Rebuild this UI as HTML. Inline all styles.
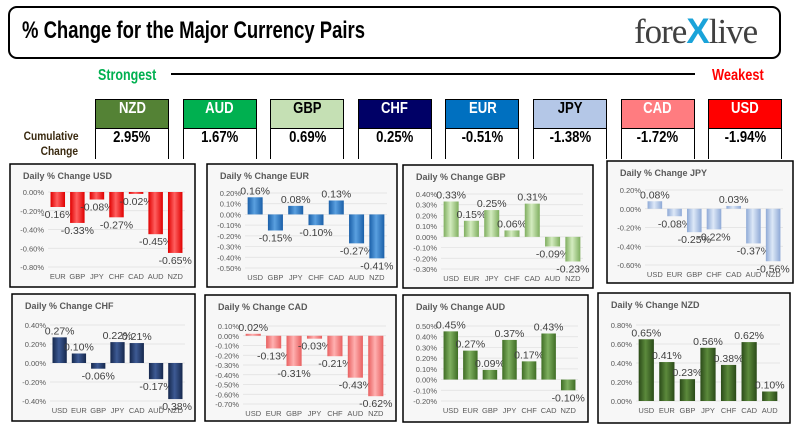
<!DOCTYPE html>
<html><head><meta charset="utf-8">
<style>
body{margin:0;background:#fff;width:794px;height:435px;overflow:hidden;position:relative;font-family:"Liberation Sans",sans-serif}
.abs{position:absolute}
.cx{display:inline-block;transform-origin:left center;white-space:nowrap}
.title-box{left:8px;top:6px;width:773px;height:53px;border:2px solid #000;border-radius:9px;box-sizing:border-box}
.title{left:22px;top:17px;font:bold 24px "Liberation Sans",sans-serif;color:#000;transform:scaleX(0.77);transform-origin:left top;white-space:nowrap}
.logo{left:634px;top:12px;font:35px "Liberation Serif",serif;color:#404040;letter-spacing:-1px}
.cur{width:74px;height:60px;border:1px solid #000;box-sizing:border-box;top:99px}
.cur .h{height:28px;line-height:28px;text-align:center;font:bold 16px "Liberation Sans",sans-serif;border-bottom:1px solid #000}
.cur .v{height:30px;line-height:30px;text-align:center;font:bold 16px "Liberation Sans",sans-serif;color:#000;background:#fff}
.cur span{display:inline-block;transform:scaleX(0.82)}
</style></head><body>
<div class="abs title-box"></div>
<div class="abs title">% Change for the Major Currency Pairs</div>
<div class="abs logo">fore<span style="color:#1aa3d9;font-family:'Liberation Sans',sans-serif;font-weight:bold">X</span>live</div>
<div class="abs" style="left:98px;top:67px;font:bold 16px 'Liberation Sans',sans-serif;color:#00b050;transform:scaleX(0.78);transform-origin:left top">Strongest</div>
<div class="abs" style="left:171px;top:73px;width:524px;height:2px;background:#000"></div>
<div class="abs" style="left:712px;top:67px;font:bold 16px 'Liberation Sans',sans-serif;color:#ff0000;transform:scaleX(0.8);transform-origin:left top">Weakest</div>
<div class="abs" style="left:14px;top:129px;width:64px;text-align:right;font:bold 12px 'Liberation Sans',sans-serif;color:#3a2a10;line-height:15px;transform:scaleX(0.85);transform-origin:right top">Cumulative<br>Change</div>
<div id="boxes"></div>
<svg id="charts" class="abs" style="left:0;top:0" width="794" height="435">
<defs id="defs"></defs>
</svg>
<script>
const boxCurrencies=["NZD","AUD","GBP","CHF","EUR","JPY","CAD","USD"];
const boxValues=["2.95%","1.67%","0.69%","0.25%","-0.51%","-1.38%","-1.72%","-1.94%"];
const boxBg=["#548235","#00b050","#c5e0b4","#000066","#0070c0","#b4c7e7","#ff7c80","#ff0000"];
const boxFg=["#fff","#fff","#000","#fff","#fff","#000","#fff","#fff"];
const bx=document.getElementById('boxes');
boxCurrencies.forEach((c,i)=>{
  const d=document.createElement('div');
  d.className='abs cur';
  d.style.left=(95+i*87.6)+'px';
  
  
  d.innerHTML='<div class="h" style="background:'+boxBg[i]+';color:'+boxFg[i]+'"><span>'+c+'</span></div><div class="v"><span>'+boxValues[i]+'</span></div>';
  bx.appendChild(d);
});

const usdCats=["EUR","GBP","JPY","CHF","CAD","AUD","NZD"];
const usdVals=[-0.16,-0.33,-0.08,-0.27,-0.02,-0.45,-0.65];
const eurCats=["USD","GBP","JPY","CHF","CAD","AUD","NZD"];
const eurVals=[0.16,-0.15,0.08,-0.10,0.13,-0.27,-0.41];
const gbpCats=["USD","EUR","JPY","CHF","CAD","AUD","NZD"];
const gbpVals=[0.33,0.15,0.25,0.06,0.31,-0.09,-0.23];
const jpyCats=["USD","EUR","GBP","CHF","CAD","AUD","NZD"];
const jpyVals=[0.08,-0.08,-0.25,-0.22,0.03,-0.37,-0.56];
const chfCats=["USD","EUR","GBP","JPY","CAD","AUD","NZD"];
const chfVals=[0.27,0.10,-0.06,0.22,0.21,-0.17,-0.38];
const cadCats=["USD","EUR","GBP","JPY","CHF","AUD","NZD"];
const cadVals=[0.02,-0.13,-0.31,-0.03,-0.21,-0.43,-0.62];
const audCats=["USD","EUR","GBP","JPY","CHF","CAD","NZD"];
const audVals=[0.45,0.27,0.09,0.37,0.17,0.43,-0.10];
const nzdCats=["USD","EUR","GBP","JPY","CHF","CAD","AUD"];
const nzdVals=[0.65,0.41,0.23,0.56,0.38,0.62,0.10];
const usdTicks=[0,-0.2,-0.4,-0.6,-0.8];
const eurTicks=[0.2,0.1,0,-0.1,-0.2,-0.3,-0.4,-0.5];
const gbpTicks=[0.4,0.3,0.2,0.1,0,-0.1,-0.2,-0.3];
const jpyTicks=[0.2,0,-0.2,-0.4,-0.6];
const chfTicks=[0.4,0.2,0,-0.2,-0.4];
const cadTicks=[0.1,0,-0.1,-0.2,-0.3,-0.4,-0.5,-0.6,-0.7];
const audTicks=[0.5,0.4,0.3,0.2,0.1,0,-0.1,-0.2];
const nzdTicks=[0.8,0.6,0.4,0.2,0];

const panels=[
 {n:"USD",x:10,y:164,w:185,h:123,yT:192,yB:267,cats:usdCats,vals:usdVals,ticks:usdTicks,c:"#e00000",l:"#ff6060"},
 {n:"EUR",x:207,y:164,w:190,h:123,yT:193,yB:268,cats:eurCats,vals:eurVals,ticks:eurTicks,c:"#1a5fa8",l:"#5aa0e0"},
 {n:"GBP",x:403,y:165,w:190,h:123,yT:194,yB:269,cats:gbpCats,vals:gbpVals,ticks:gbpTicks,c:"#7fae5f",l:"#d4ecc0"},
 {n:"JPY",x:607,y:161,w:186,h:122,yT:190,yB:265,cats:jpyCats,vals:jpyVals,ticks:jpyTicks,c:"#8ea9d6",l:"#dde8f7"},
 {n:"CHF",x:12,y:294,w:183,h:127,yT:325,yB:401,cats:chfCats,vals:chfVals,ticks:chfTicks,c:"#16284d",l:"#3d5a94"},
 {n:"CAD",x:205,y:295,w:191,h:126,yT:326,yB:404,cats:cadCats,vals:cadVals,ticks:cadTicks,c:"#e86060",l:"#ffb0b0"},
 {n:"AUD",x:403,y:295,w:185,h:127,yT:326,yB:401,cats:audCats,vals:audVals,ticks:audTicks,c:"#3f6d25",l:"#7fb060"},
 {n:"NZD",x:598,y:293,w:192,h:130,yT:325,yB:401,cats:nzdCats,vals:nzdVals,ticks:nzdTicks,c:"#2a4a18",l:"#5c8a3c"}
];
const NS="http://www.w3.org/2000/svg";
const svg=document.getElementById('charts'),defs=document.getElementById('defs');
function mk(t,a,p){const e=document.createElementNS(NS,t);for(const k in a)e.setAttribute(k,a[k]);(p||svg).appendChild(e);return e;}
const fmt=v=>v.toFixed(2)+'%';
panels.forEach(p=>{
  const g=mk('g',{});
  
  
  const gr=mk('linearGradient',{id:'g'+p.n,x1:0,x2:1,y1:0,y2:0},defs);
  mk('stop',{offset:'0',"stop-color":p.c},gr);
  mk('stop',{offset:'0.45',"stop-color":p.l},gr);
  mk('stop',{offset:'1',"stop-color":p.c},gr);
  const bg=mk('rect',{x:p.x,y:p.y,width:p.w,height:p.h,fill:'#f7f7f7',stroke:'#000','stroke-width':1.5},g);
  
  
  const t=mk('text',{x:p.x+13,y:p.y+15,'font-size':9,'font-weight':'bold',fill:'#595959'},g);
  t.textContent='Daily % Change '+p.n;
  
  
  const hi=p.ticks[0],lo=p.ticks[p.ticks.length-1];
  const Y=v=>p.yT+(hi-v)/(hi-lo)*(p.yB-p.yT);
  const L=p.x+38,R=p.x+p.w-10,bw=(R-L)/p.cats.length;
  const X=i=>L+bw*i;
  p.ticks.forEach(tv=>{
    mk('line',{x1:L,x2:R,y1:Y(tv),y2:Y(tv),stroke:'#e0e0e0','stroke-width':0.7},g);
    const tl=mk('text',{x:L-4,y:Y(tv)+3,'font-size':7.5,fill:'#595959','text-anchor':'end'},g);
    tl.textContent=fmt(tv);
    
    
  });
  p.cats.forEach((c,i)=>{
    const v=p.vals[i],y0=Y(0),y1=Y(v);
    const b=mk('rect',{x:X(i)+bw*0.13,y:Math.min(y0,y1),width:bw*0.74,height:Math.max(1,Math.abs(y1-y0)),fill:'url(#g'+p.n+')'},g);
    
    
    const lb=mk('text',{x:X(i)+bw/2,y:v>=0?y1-3:y1+11,'font-size':10.5,fill:'#404040','text-anchor':'middle'},g);
    lb.textContent=fmt(v);
    
    
    const xl=mk('text',{x:X(i)+bw/2,y:p.yB+12,'font-size':7.5,fill:'#595959','text-anchor':'middle'},g);
    xl.textContent=c;
    
    
  });
});
</script>
</body></html>
